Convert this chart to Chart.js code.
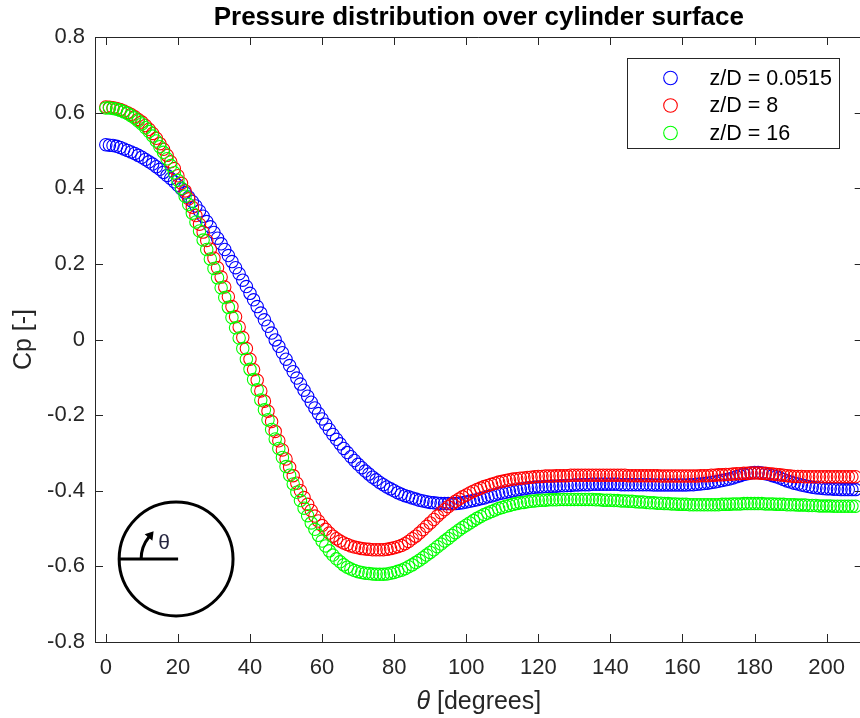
<!DOCTYPE html>
<html><head><meta charset="utf-8">
<style>html,body{margin:0;padding:0;overflow:hidden;background:#fff;width:860px;height:718px}canvas{display:block}</style>
<script src="https://cdn.jsdelivr.net/npm/chart.js@4.4.0/dist/chart.umd.min.js"></script>
</head><body>
<canvas id="c" width="870" height="718" style="width:870px;height:718px"></canvas>
<script>
// ---- data ----
const theta = [
0,1,2,3,4,5,6,7,8,9,10,11,12,13,14,15,16,17,18,19,
20,21,22,23,24,25,26,27,28,29,30,31,32,33,34,35,36,37,38,39,
40,41,42,43,44,45,46,47,48,49,50,51,52,53,54,55,56,57,58,59,
60,61,62,63,64,65,66,67,68,69,70,71,72,73,74,75,76,77,78,79,
80,81,82,83,84,85,86,87,88,89,90,91,92,93,94,95,96,97,98,99,
100,101,102,103,104,105,106,107,108,109,110,111,112,113,114,115,116,117,118,119,
120,121,122,123,124,125,126,127,128,129,130,131,132,133,134,135,136,137,138,139,
140,141,142,143,144,145,146,147,148,149,150,151,152,153,154,155,156,157,158,159,
160,161,162,163,164,165,166,167,168,169,170,171,172,173,174,175,176,177,178,179,
180,181,182,183,184,185,186,187,188,189,190,191,192,193,194,195,196,197,198,199,
200,201,202,203,204,205,206,207,208];

const cpZD0515 = [
.515,.514,.513,.511,.508,.504,.500,.496,.492,.487,
.482,.476,.470,.464,.457,.450,.442,.434,.426,.417,
.408,.398,.388,.377,.365,.353,.340,.326,.312,.298,
.283,.268,.253,.238,.222,.206,.190,.174,.157,.140,
.122,.105,.087,.070,.052,.035,.017,-.001,-.018,-.035,
-.052,-.069,-.085,-.102,-.118,-.134,-.150,-.166,-.181,-.196,
-.210,-.224,-.238,-.251,-.264,-.276,-.288,-.299,-.310,-.320,
-.330,-.339,-.348,-.356,-.364,-.371,-.378,-.384,-.390,-.395,
-.400,-.405,-.409,-.413,-.416,-.419,-.422,-.425,-.427,-.429,
-.431,-.432,-.433,-.434,-.434,-.434,-.434,-.434,-.433,-.432,
-.430,-.428,-.426,-.424,-.421,-.419,-.416,-.414,-.411,-.408,
-.406,-.404,-.402,-.400,-.398,-.396,-.395,-.393,-.392,-.391,
-.390,-.390,-.389,-.389,-.388,-.388,-.387,-.387,-.386,-.386,
-.385,-.385,-.384,-.384,-.384,-.383,-.383,-.383,-.383,-.383,
-.383,-.383,-.383,-.384,-.384,-.384,-.384,-.384,-.384,-.384,
-.384,-.384,-.385,-.385,-.385,-.385,-.385,-.385,-.385,-.385,
-.385,-.385,-.384,-.384,-.383,-.382,-.381,-.380,-.378,-.377,
-.375,-.373,-.371,-.369,-.366,-.363,-.360,-.357,-.355,-.353,
-.352,-.352,-.353,-.355,-.357,-.360,-.363,-.366,-.370,-.374,
-.377,-.380,-.382,-.385,-.387,-.389,-.391,-.392,-.393,-.394,
-.395,-.395,-.396,-.396,-.397,-.397,-.397,-.397,-.397];

const cpZD8 = [
.615,.614,.613,.611,.608,.604,.600,.595,.589,.582,
.575,.566,.556,.545,.532,.518,.503,.487,.470,.452,
.433,.413,.393,.372,.350,.328,.305,.284,.262,.239,
.215,.190,.165,.139,.113,.087,.060,.033,.005,-.024,
-.052,-.080,-.108,-.136,-.163,-.190,-.217,-.243,-.268,-.292,
-.316,-.338,-.360,-.380,-.400,-.418,-.436,-.452,-.467,-.480,
-.492,-.502,-.512,-.520,-.527,-.533,-.538,-.542,-.546,-.549,
-.551,-.553,-.554,-.555,-.556,-.556,-.556,-.556,-.555,-.553,
-.551,-.548,-.545,-.540,-.534,-.527,-.520,-.512,-.503,-.494,
-.485,-.476,-.467,-.458,-.450,-.442,-.435,-.428,-.422,-.416,
-.411,-.406,-.401,-.397,-.393,-.389,-.386,-.383,-.380,-.377,
-.375,-.373,-.371,-.369,-.368,-.367,-.366,-.365,-.364,-.363,
-.362,-.362,-.361,-.361,-.361,-.360,-.360,-.360,-.360,-.359,
-.359,-.359,-.359,-.359,-.359,-.359,-.359,-.359,-.359,-.359,
-.359,-.359,-.359,-.359,-.359,-.360,-.360,-.360,-.360,-.360,
-.360,-.360,-.360,-.360,-.361,-.361,-.361,-.361,-.361,-.361,
-.361,-.361,-.361,-.361,-.361,-.360,-.360,-.360,-.359,-.359,
-.358,-.358,-.357,-.357,-.356,-.355,-.355,-.354,-.354,-.353,
-.353,-.353,-.354,-.354,-.355,-.356,-.357,-.358,-.359,-.360,
-.361,-.362,-.362,-.362,-.363,-.363,-.363,-.363,-.363,-.363,
-.363,-.363,-.363,-.363,-.363,-.363,-.363,-.363,-.363];

const cpZD16 = [
.612,.612,.611,.609,.606,.602,.598,.592,.586,.578,
.570,.560,.550,.538,.525,.510,.495,.478,.460,.441,
.421,.400,.379,.357,.334,.311,.287,.263,.238,.213,
.188,.163,.137,.111,.085,.058,.031,.004,-.024,-.052,
-.079,-.106,-.133,-.160,-.186,-.212,-.238,-.263,-.288,-.312,
-.336,-.359,-.382,-.404,-.426,-.446,-.466,-.485,-.502,-.518,
-.533,-.546,-.559,-.570,-.580,-.588,-.596,-.602,-.607,-.611,
-.614,-.616,-.618,-.619,-.620,-.621,-.621,-.621,-.620,-.618,
-.616,-.613,-.610,-.606,-.601,-.596,-.590,-.584,-.577,-.570,
-.563,-.556,-.548,-.541,-.533,-.526,-.518,-.511,-.504,-.497,
-.491,-.485,-.479,-.473,-.468,-.463,-.459,-.455,-.451,-.447,
-.444,-.441,-.439,-.436,-.434,-.432,-.431,-.429,-.428,-.427,
-.426,-.425,-.425,-.424,-.424,-.424,-.423,-.423,-.423,-.423,
-.423,-.423,-.423,-.423,-.423,-.423,-.424,-.424,-.425,-.425,
-.425,-.426,-.426,-.427,-.427,-.428,-.428,-.429,-.430,-.430,
-.431,-.432,-.432,-.433,-.433,-.434,-.434,-.435,-.435,-.436,
-.436,-.436,-.437,-.437,-.437,-.437,-.437,-.437,-.437,-.437,
-.437,-.436,-.436,-.436,-.435,-.435,-.435,-.434,-.434,-.434,
-.434,-.434,-.434,-.435,-.435,-.435,-.436,-.436,-.436,-.437,
-.437,-.437,-.438,-.438,-.438,-.439,-.439,-.439,-.440,-.440,
-.440,-.440,-.441,-.441,-.441,-.441,-.441,-.441,-.441];

const seriesLabels = ['z/D = 0.0515', 'z/D = 8', 'z/D = 16'];
const xTicks = [0,20,40,60,80,100,120,140,160,180,200];
const xTickLabels = ['0','20','40','60','80','100','120','140','160','180','200'];
const yTicks = [-0.8,-0.6,-0.4,-0.2,0,0.2,0.4,0.6,0.8];
const yTickLabels = ['-0.8','-0.6','-0.4','-0.2','0','0.2','0.4','0.6','0.8'];
const titleText = 'Pressure distribution over cylinder surface';
const yTitle = 'Cp [-]';

// ---- styles / layout ----
const FONT = "'Liberation Sans', Arial, Helvetica, sans-serif";
const AX = '#262626';
const seriesColors = ['#0000ff', '#ff0000', '#00ff00'];
const TL = 8; // tick length
const insetCenter = [19.5, -0.5805]; // in data units
const insetRadius = 15.8;  // in x-data units
const insetArcRadius = 9.7;

function pts(arr){ return theta.map((t,i)=>({x:t, y:arr[i]})); }
const allSeries = [cpZD0515, cpZD8, cpZD16];

const datasets = allSeries.map((arr,i)=>({
  label: seriesLabels[i],
  data: pts(arr),
  showLine:false,
  pointStyle:'circle',
  pointRadius:6.2,
  pointHoverRadius:6.2,
  pointBorderWidth:1.1,
  borderColor: seriesColors[i],
  pointBorderColor: seriesColors[i],
  pointBackgroundColor:'rgba(0,0,0,0)',
  backgroundColor:'rgba(0,0,0,0)',
  order: 3 - i
}));

function drawInset(chart){
  const {ctx, scales:{x,y}} = chart;
  const cx = x.getPixelForValue(insetCenter[0]);
  const cy = y.getPixelForValue(insetCenter[1]);
  const unit = x.getPixelForValue(1) - x.getPixelForValue(0);
  const R = insetRadius*unit, r = insetArcRadius*unit;
  ctx.save();
  ctx.strokeStyle = '#000'; ctx.lineWidth = 3; ctx.lineCap='butt';
  ctx.beginPath(); ctx.arc(cx, cy, R, 0, Math.PI*2); ctx.stroke();
  ctx.beginPath(); ctx.moveTo(cx-R, cy); ctx.lineTo(cx+2, cy); ctx.stroke();
  const a0 = Math.PI, a1 = Math.PI*1.22;
  ctx.beginPath(); ctx.arc(cx, cy, r, a0, a1); ctx.stroke();
  const ex = cx + r*Math.cos(a1), ey = cy + r*Math.sin(a1);
  const tx = -Math.sin(a1), ty = Math.cos(a1);
  const nx = -ty, ny = tx;
  ctx.fillStyle = '#000';
  ctx.beginPath();
  ctx.moveTo(ex + tx*7, ey + ty*7);
  ctx.lineTo(ex - tx*1 + nx*5, ey - ty*1 + ny*5);
  ctx.lineTo(ex - tx*1 - nx*5, ey - ty*1 - ny*5);
  ctx.closePath(); ctx.fill();
  ctx.font = '21px ' + FONT; ctx.fillStyle = '#262640';
  ctx.textAlign='center'; ctx.textBaseline='middle';
  ctx.fillText('\u03b8', cx - 12, cy - 16);
  ctx.restore();
}

const decor = {
  id:'decor',
  afterDatasetsDraw(chart){ drawInset(chart); },
  afterDraw(chart){
    const {ctx, chartArea:a, scales:{x,y}} = chart;
    ctx.save();
    ctx.strokeStyle = AX; ctx.lineWidth = 1;
    ctx.beginPath();
    ctx.moveTo(a.left, a.top+0.5); ctx.lineTo(a.right, a.top+0.5);
    ctx.moveTo(a.right-0.5, a.top); ctx.lineTo(a.right-0.5, a.bottom);
    xTicks.forEach(v=>{
      const px = Math.round(x.getPixelForValue(v))+0.5;
      ctx.moveTo(px, a.bottom); ctx.lineTo(px, a.bottom-TL);
      ctx.moveTo(px, a.top); ctx.lineTo(px, a.top+TL);
    });
    yTicks.forEach(v=>{
      const py = Math.round(y.getPixelForValue(v))+0.5;
      ctx.moveTo(a.left, py); ctx.lineTo(a.left+TL, py);
      ctx.moveTo(a.right, py); ctx.lineTo(a.right-TL, py);
    });
    ctx.stroke();

    // title
    const midX = (a.left + a.right)/2;
    ctx.fillStyle = '#000';
    ctx.font = 'bold 26px ' + FONT;
    ctx.textAlign = 'center'; ctx.textBaseline = 'middle';
    ctx.fillText(titleText, midX, 18);

    // x label: italic theta + [degrees]
    ctx.fillStyle = AX;
    const f1 = 'italic 25px ' + FONT, f2 = '25px ' + FONT;
    ctx.font = f1; const w1 = ctx.measureText('\u03b8').width;
    ctx.font = f2; const w2 = ctx.measureText(' [degrees]').width;
    let sx = midX - (w1+w2)/2;
    ctx.textAlign = 'left';
    ctx.font = f1; ctx.fillText('\u03b8', sx, 702);
    ctx.font = f2; ctx.fillText(' [degrees]', sx + w1, 702);

    // y label
    ctx.save();
    ctx.translate(24, (a.top + a.bottom)/2);
    ctx.rotate(-Math.PI/2);
    ctx.textAlign = 'center'; ctx.font = '25px ' + FONT;
    ctx.fillText(yTitle, 0, 0);
    ctx.restore();

    // legend
    const bx = Math.round(a.right - 235.5)+0.5, by = Math.round(a.top + 21)+0.5;
    const bw = 212, bh = 90;
    ctx.fillStyle = '#fff'; ctx.fillRect(bx, by, bw, bh);
    ctx.strokeStyle = AX; ctx.lineWidth = 1; ctx.strokeRect(bx, by, bw, bh);
    chart.data.datasets.forEach((ds, i)=>{
      const ry = by + 19.5 + i*27.5;
      ctx.strokeStyle = ds.borderColor; ctx.lineWidth = 1.1;
      ctx.beginPath(); ctx.arc(bx + 43, ry, 6.8, 0, Math.PI*2); ctx.stroke();
      ctx.fillStyle = '#000'; ctx.font = '21.5px ' + FONT;
      ctx.textAlign = 'left'; ctx.textBaseline = 'middle';
      ctx.fillText(ds.label, bx + 82, ry + 1);
    });
    ctx.restore();
  }
};

new Chart(document.getElementById('c').getContext('2d'), {
  type:'scatter',
  data:{ datasets },
  options:{
    responsive:false, animation:false, devicePixelRatio:1,
    layout:{ padding:{ top:37, right:4.5, left:0, bottom:0 } },
    plugins:{ legend:{display:false}, tooltip:{enabled:false}, title:{display:false} },
    events:[],
    scales:{
      x:{
        type:'linear', min:-3, max:210,
        afterBuildTicks: s => { s.ticks = xTicks.map(v=>({value:v})); },
        afterFit: s => { s.height = 76; },
        grid:{ display:false, drawTicks:false },
        border:{ display:true, color:AX, width:1 },
        ticks:{ font:{family:FONT, size:22}, color:AX, padding:13, maxRotation:0, autoSkip:false,
          callback:(v,i)=> xTickLabels[i] }
      },
      y:{
        type:'linear', min:-0.8, max:0.8,
        afterBuildTicks: s => { s.ticks = yTicks.map(v=>({value:v})); },
        afterFit: s => { s.width = 95; },
        grid:{ display:false, drawTicks:false },
        border:{ display:true, color:AX, width:1 },
        ticks:{ font:{family:FONT, size:22}, color:AX, padding:10, autoSkip:false,
          callback:(v,i)=> yTickLabels[i] }
      }
    }
  },
  plugins:[decor]
});
</script>
</body></html>
